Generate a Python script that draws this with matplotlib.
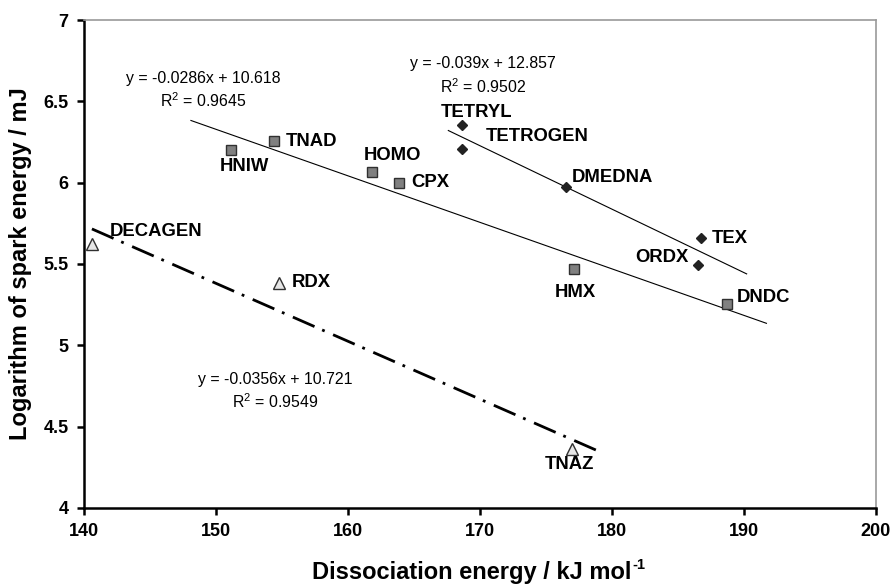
import matplotlib
matplotlib.use("Agg")
import matplotlib.pyplot as plt
import numpy as np
from matplotlib.ticker import MultipleLocator, FormatStrFormatter

plt.rcParams['font.family'] = ['Liberation Sans', 'DejaVu Sans']

# squares (nitramines)
sq_names = ["HNIW", "TNAD", "HOMO", "CPX", "HMX", "DNDC"]
sq_x = [151.1, 154.4, 161.8, 163.9, 177.1, 188.7]
sq_y = [6.20, 6.256, 6.068, 6.00, 5.468, 5.253]

# diamonds
dm_names = ["TETRYL", "TETROGEN", "DMEDNA", "TEX", "ORDX"]
dm_x = [168.6, 168.6, 176.5, 186.75, 186.5]
dm_y = [6.355, 6.205, 5.974, 5.658, 5.494]

# triangles
tr_names = ["DECAGEN", "RDX", "TNAZ"]
tr_x = [140.6, 154.8, 177.0]
tr_y = [5.621, 5.386, 4.361]

# trend lines: slope, intercept, x-range, R2
fit_sq = (-0.0286, 10.618, (148.1, 191.7), 0.9645)
fit_dm = (-0.039, 12.857, (167.6, 190.2), 0.9502)
fit_tr = (-0.0356, 10.721, (140.6, 179.2), 0.9549)

fig = plt.figure(figsize=(8.92, 5.84), dpi=100)
ax = fig.add_axes([84/892, 1 - 508/584, 792/892, 488/584])

def trend(fit, **kw):
    m, b, (x0, x1), r2 = fit
    xs = np.array([x0, x1])
    ax.plot(xs, m * xs + b, **kw)

trend(fit_sq, color='black', lw=0.8)
trend(fit_dm, color='black', lw=0.8)
trend(fit_tr, color='black', lw=2, dashes=(8.5, 3, 1, 3.3))

ax.plot(sq_x, sq_y, 's', ms=7.4, mfc='#808080', mec='#303030', mew=1, ls='none')
ax.plot(dm_x, dm_y, 'D', ms=5.6, mfc='#222222', mec='#222222', ls='none')
ax.plot(tr_x, tr_y, '^', ms=8, mfc='#e6e6e6', mec='#303030', mew=1, ls='none')

lab_kw = dict(textcoords='offset pixels', fontsize=13.3, fontweight='bold', va='center')
offsets = {
    "HNIW": (14, -16, 'center'), "TNAD": (12, 0, 'left'), "HOMO": (21, 16, 'center'),
    "CPX": (12, 0, 'left'), "HMX": (2, -23, 'center'), "DNDC": (10, 7, 'left'),
    "TETRYL": (15, 12, 'center'), "TETROGEN": (24, 13, 'left'), "DMEDNA": (6, 9, 'left'),
    "TEX": (11, 0, 'left'), "ORDX": (-9, 7, 'right'),
    "DECAGEN": (18, 13, 'left'), "RDX": (12, 0, 'left'), "TNAZ": (-3, -15, 'center'),
}
for names, xs, ys in [(sq_names, sq_x, sq_y), (dm_names, dm_x, dm_y), (tr_names, tr_x, tr_y)]:
    for n, x, y in zip(names, xs, ys):
        dx, dy, ha = offsets[n]
        ax.annotate(n, (x, y), xytext=(dx, dy), ha=ha, **lab_kw)

# equations
eq_pos = [(fit_sq, 149.0, 6.642, 6.507), (fit_dm, 170.2, 6.734, 6.59), (fit_tr, 154.5, 4.792, 4.652)]
for fit, ex, ey1, ey2 in eq_pos:
    m, b, _, r2 = fit
    ax.text(ex, ey1, "y = %gx + %g" % (m, b), fontsize=11.4, ha='center', va='center')
    ax.text(ex, ey2, "R$\\mathregular{^2}$ = %g" % r2, fontsize=11.4, ha='center', va='center')

ax.set_xlim(140, 200)
ax.set_ylim(4, 7)
ax.xaxis.set_major_locator(MultipleLocator(10))
ax.yaxis.set_major_locator(MultipleLocator(0.5))
ax.yaxis.set_major_formatter(FormatStrFormatter('%g'))
ax.tick_params(direction='out', length=5, width=1.8, labelsize=13, pad=6)
for lbl in ax.get_xticklabels() + ax.get_yticklabels():
    lbl.set_fontweight('bold')
for s in ['left', 'bottom']:
    ax.spines[s].set_linewidth(1.8)
for s in ['top', 'right']:
    ax.spines[s].set_color('#999999')
    ax.spines[s].set_linewidth(1.2)

ax.set_xlabel("Dissociation energy / kJ mol", fontsize=17, fontweight='bold')
ax.set_ylabel("Logarithm of spark energy / mJ", fontsize=17, fontweight='bold')
ax.xaxis.set_label_coords(0.49, -0.108)
ax.yaxis.set_label_coords(-0.066, 0.5)
ax.annotate("-1", xy=(1, 1), xycoords=ax.xaxis.label, xytext=(1, 3),
            textcoords='offset pixels', fontsize=10.5, fontweight='bold', ha='left', va='top')

fig.savefig("out.png", dpi=100)
